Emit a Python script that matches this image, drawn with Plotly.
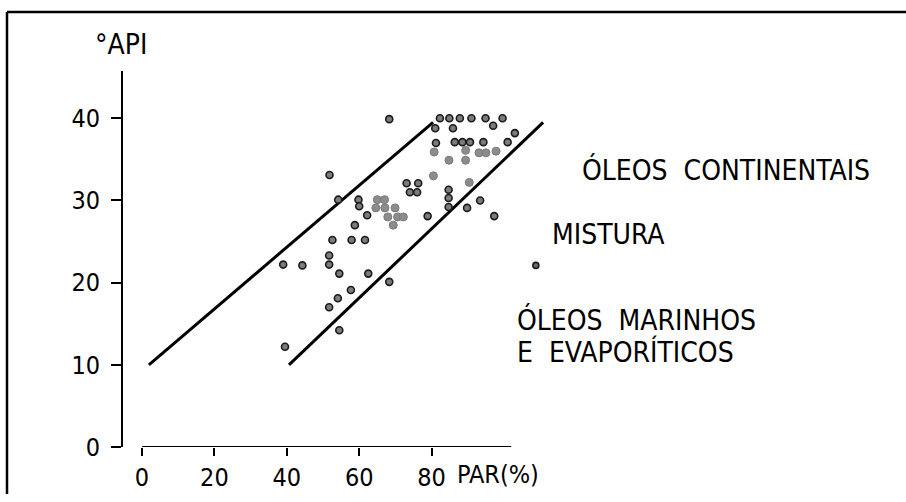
import plotly.graph_objects as go

# ---- data (PAR %, °API) ----
dark_par = [68.3, 82.3, 84.9, 87.8, 91.0, 94.9, 99.6, 81.0, 85.9, 97.0, 103.0,
            81.2, 86.4, 88.5, 90.6, 94.3, 101.0,
            84.7, 84.7, 84.7, 73.1, 76.3, 74.0, 76.0, 93.4, 89.8, 97.3, 78.9,
            51.8, 54.2, 59.8, 60.0, 62.2, 58.8, 52.6, 57.9, 61.6, 51.7,
            39.0, 44.3, 51.7, 54.5, 62.5, 68.3, 57.7, 54.1, 51.7, 54.5, 39.5]
dark_api = [39.9, 40.0, 40.0, 40.0, 40.0, 40.0, 40.0, 38.8, 38.8, 39.1, 38.2,
            37.0, 37.1, 37.1, 37.1, 37.1, 37.1,
            31.3, 30.3, 29.2, 32.1, 32.1, 31.0, 31.0, 30.0, 29.1, 28.1, 28.1,
            33.1, 30.1, 30.1, 29.3, 28.2, 27.0, 25.2, 25.2, 25.2, 23.3,
            22.2, 22.1, 22.2, 21.1, 21.1, 20.1, 19.1, 18.1, 17.0, 14.2, 12.2]

gray_par = [80.7, 89.4, 93.1, 95.0, 97.8, 84.8, 89.4, 80.5, 90.4,
            65.0, 67.0, 64.6, 67.1, 69.9, 67.9, 70.6, 72.2, 69.4]
gray_api = [35.9, 36.1, 35.8, 35.8, 36.0, 34.9, 34.9, 33.0, 32.2,
            30.1, 30.1, 29.1, 29.1, 29.1, 28.0, 28.0, 28.0, 27.0]

legend_par = [108.8]
legend_api = [22.1]

upper_line_par = [1.9, 80.4]
upper_line_api = [10.0, 39.5]
lower_line_par = [40.6, 110.8]
lower_line_api = [10.0, 39.5]

x_ticks = [0, 20, 40, 60, 80]
y_ticks = [0, 10, 20, 30, 40]

FONT = "Liberation Sans Narrow, DejaVu Sans Condensed, Arial Narrow, sans-serif"

fig = go.Figure()

fig.add_trace(go.Scatter(x=upper_line_par, y=upper_line_api, mode="lines",
                         line=dict(color="black", width=3), hoverinfo="skip"))
fig.add_trace(go.Scatter(x=lower_line_par, y=lower_line_api, mode="lines",
                         line=dict(color="black", width=3), hoverinfo="skip"))
fig.add_trace(go.Scatter(x=gray_par, y=gray_api, mode="markers",
                         marker=dict(size=8, color="#8c8c8c",
                                     line=dict(color="#7a7a7a", width=1)),
                         hoverinfo="skip", cliponaxis=False))
fig.add_trace(go.Scatter(x=dark_par, y=dark_api, mode="markers",
                         marker=dict(size=7, color="#7c7c7c",
                                     line=dict(color="#1a1a1a", width=1.6)),
                         hoverinfo="skip", cliponaxis=False))
fig.add_trace(go.Scatter(x=legend_par, y=legend_api, mode="markers",
                         marker=dict(size=6, color="#6a6a6a",
                                     line=dict(color="#1a1a1a", width=1.6)),
                         hoverinfo="skip", cliponaxis=False))

W, H = 906, 502
L, R, T, B = 123, 10, 71, 48
pw = W - L - R
ph = H - T - B

fig.update_layout(
    width=W, height=H,
    margin=dict(l=L, r=R, t=T, b=B, pad=0),
    paper_bgcolor="white", plot_bgcolor="white",
    showlegend=False,
    font=dict(family=FONT, size=25, color="black"),
    xaxis=dict(range=[-5.25, -5.25 + pw / 3.62], tickvals=x_ticks,
               ticks="outside", ticklen=8, tickwidth=2, tickcolor="black",
               showline=False, showgrid=False, zeroline=False,
               tickfont=dict(family=FONT, size=25, color="black")),
    yaxis=dict(range=[0, ph / 8.37], tickvals=y_ticks,
               ticks="outside", ticklen=10, tickwidth=2, tickcolor="black",
               showline=True, linewidth=2, linecolor="black",
               showgrid=False, zeroline=False, ticklabelstandoff=6,
               tickfont=dict(family=FONT, size=25, color="black")),
)

# x axis line (starts at 0, separate from the y axis)
fig.add_shape(type="line", xref="x", yref="y", x0=0, x1=102, y0=0, y1=0,
              line=dict(color="black", width=2))

# frame (left and top edges)
def px_x(p):
    return (p - L) / pw

def px_y(p):
    return (H - B - p) / ph

fig.add_shape(type="line", xref="paper", yref="paper",
              x0=px_x(7), x1=px_x(7), y0=px_y(502), y1=px_y(11),
              line=dict(color="black", width=2.5))
fig.add_shape(type="line", xref="paper", yref="paper",
              x0=px_x(7), x1=px_x(906), y0=px_y(11), y1=px_y(11),
              line=dict(color="black", width=2.5))

def ann(text, xp, yp, size, anchor="left"):
    fig.add_annotation(text=text, xref="paper", yref="paper",
                       x=px_x(xp), y=px_y(yp), xanchor=anchor, yanchor="middle",
                       showarrow=False, font=dict(family=FONT, size=size, color="black"))

ann("°API", 121, 44, 28, anchor="center")
ann("PAR(%)", 455, 482, 25)
ann("ÓLEOS  CONTINENTAIS", 580, 172, 28)
ann("MISTURA", 550, 238, 28)
ann("ÓLEOS  MARINHOS", 515, 325, 28)
ann("E  EVAPORÍTICOS", 515, 357, 28)

fig.write_html("out.html")
